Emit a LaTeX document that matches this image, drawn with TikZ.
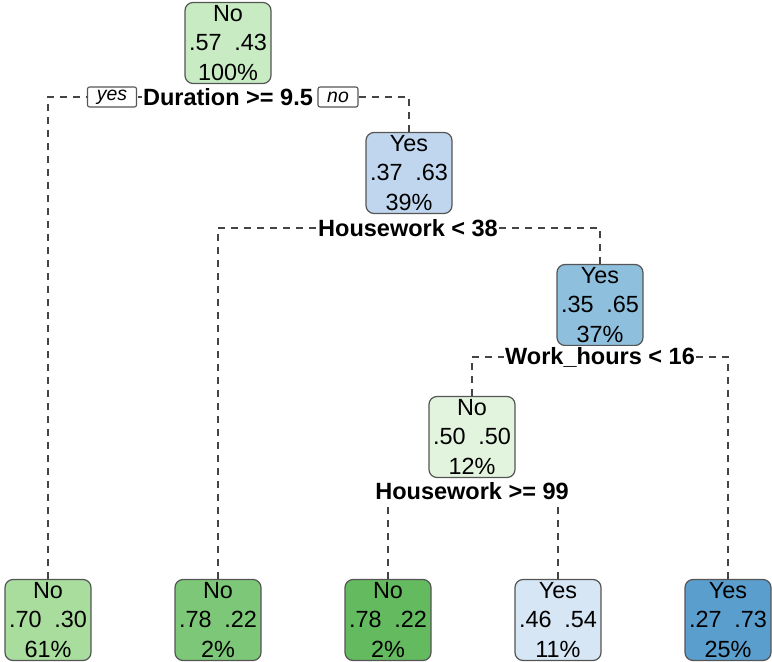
\documentclass[tikz,border=0pt]{standalone}
\usepackage{fontspec}
\setmainfont{Liberation Sans}
\usetikzlibrary{backgrounds}
\definecolor{clEdge}{HTML}{555555}
\definecolor{clBranch}{HTML}{444444}
\definecolor{clNoA}{HTML}{E3F4DE}
\definecolor{clNoB}{HTML}{C8EBC3}
\definecolor{clNoC}{HTML}{A8DD9E}
\definecolor{clNoD}{HTML}{7CC878}
\definecolor{clNoE}{HTML}{63BA5F}
\definecolor{clYesA}{HTML}{D7E6F5}
\definecolor{clYesB}{HTML}{BFD6EE}
\definecolor{clYesC}{HTML}{8EBFDC}
\definecolor{clYesD}{HTML}{5A9ECE}
\newcommand{\probs}[2]{#1\hspace{0.55em}#2}
\tikzset{
  treenode/.style={rectangle, rounded corners=8bp, draw=clEdge, line width=1.2bp,
                   align=center, inner sep=0pt, minimum width=86bp, minimum height=81bp,
                   font=\fontsize{23.5}{30}\selectfont},
  splitlabel/.style={fill=white, inner sep=1.5bp, font=\bfseries\fontsize{23.6}{26}\selectfont},
  dirbox/.style={rectangle, rounded corners=2bp, draw=clEdge, line width=1.1bp, fill=white,
                 inner sep=0pt, minimum height=20bp, font=\itshape\fontsize{19.5}{20}\selectfont},
  branch/.style={draw=clBranch, line width=1.1bp, dash pattern=on 7bp off 6bp},
}

\begin{document}
\begin{tikzpicture}[x=1bp, y=-1bp]
  \useasboundingbox (0,0) rectangle (772,662);
  % inner nodes
  \node[treenode, fill=clNoB] (root) at (228,43) {No\\\probs{.57}{.43}\\100\%};
  \node[treenode, fill=clYesB] (hw) at (409,173) {Yes\\\probs{.37}{.63}\\39\%};
  \node[treenode, fill=clYesC] (wh) at (600,305) {Yes\\\probs{.35}{.65}\\37\%};
  \node[treenode, fill=clNoA] (hwb) at (472,437) {No\\\probs{.50}{.50}\\12\%};
  % leaves
  \node[treenode, fill=clNoC] (leaf1) at (48,620) {No\\\probs{.70}{.30}\\61\%};
  \node[treenode, fill=clNoD] (leaf2) at (218,620) {No\\\probs{.78}{.22}\\2\%};
  \node[treenode, fill=clNoE] (leaf3) at (388,620) {No\\\probs{.78}{.22}\\2\%};
  \node[treenode, fill=clYesA] (leaf4) at (558,620) {Yes\\\probs{.46}{.54}\\11\%};
  \node[treenode, fill=clYesD] (leaf5) at (728,620) {Yes\\\probs{.27}{.73}\\25\%};
  % split labels
  \node[splitlabel] (sDur) at (228,97) {Duration >= 9.5};
  \node[splitlabel] (sHw) at (408,228) {Housework < 38};
  \node[splitlabel] (sWh) at (600,357) {Work\_hours < 16};
  \node[splitlabel] (sHwb) at (472,491) {Housework >= 99};
  \node[dirbox, minimum width=49bp] (yesbox) at (112,97) {yes};
  \node[dirbox, minimum width=40bp] (nobox) at (338,97) {no};
  % branches
  \begin{scope}[on background layer]
    \draw[branch] (leaf1.north) |- (sDur.center);
    \draw[branch] (hw.north) |- (sDur.center);
    \draw[branch] (leaf2.north) |- (sHw.center);
    \draw[branch] (wh.north) |- (sHw.center);
    \draw[branch] (hwb.north) |- (sWh.center);
    \draw[branch] (leaf5.north) |- (sWh.center);
    \draw[branch] (leaf3.north) |- (sHwb.center);
    \draw[branch] (leaf4.north) |- (sHwb.center);
  \end{scope}
\end{tikzpicture}
\end{document}
